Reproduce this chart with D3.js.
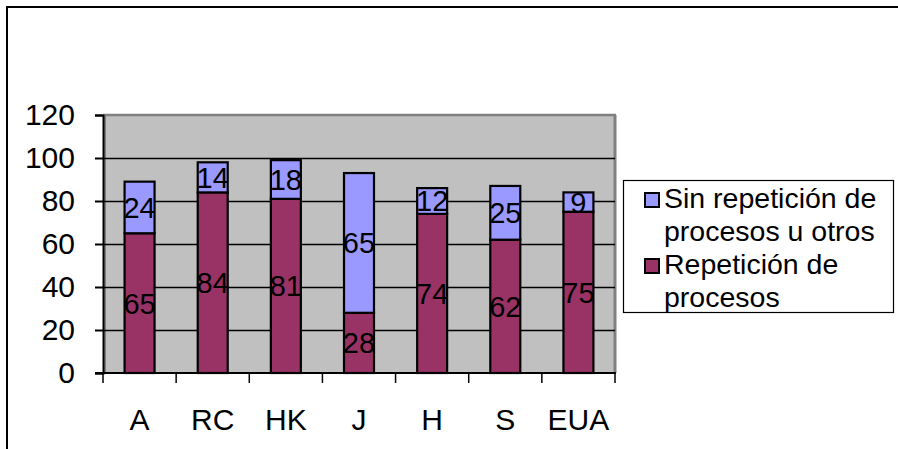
<!DOCTYPE html>
<html>
<head>
<meta charset="utf-8">
<script src="https://cdn.jsdelivr.net/npm/d3@7.9.0/dist/d3.min.js"></script>
<style>
  body { margin: 0; background: #fff; }
  svg { display: block; font-family: "Liberation Sans", Arial, sans-serif; }
</style>
</head>
<body>
<svg width="898" height="449"></svg>
<script>
// chart data
const categories = ['A', 'RC', 'HK', 'J', 'H', 'S', 'EUA'];
const repeticion = [65, 84, 81, 28, 74, 62, 75];
const sinRepeticion = [24, 14, 18, 65, 12, 25, 9];
const yTicks = [0, 20, 40, 60, 80, 100, 120];
const legendLines = [
  ['Sin repetición de', 'procesos u otros'],
  ['Repetición de', 'procesos']
];
const colors = ['#993366', '#9999FF'];

const svg = d3.select('svg');
const plotLeft = 103, plotRight = 615, plotTop = 115, plotBottom = 373;

// frame lines of the picture
svg.append('line').attr('x1', 7).attr('x2', 7).attr('y1', 6).attr('y2', 449)
  .attr('stroke', '#000').attr('stroke-width', 2);
svg.append('line').attr('x1', 6).attr('x2', 898).attr('y1', 7).attr('y2', 7)
  .attr('stroke', '#000').attr('stroke-width', 2);

let x = d3.scaleBand().domain(categories).range([plotLeft, plotRight])
  .paddingInner(0.59).paddingOuter(0.295);
let y = d3.scaleLinear().domain([0, 120]).range([plotBottom, plotTop]);

// plot area
svg.append('rect').attr('x', plotLeft).attr('y', plotTop)
  .attr('width', plotRight - plotLeft).attr('height', plotBottom - plotTop).attr('fill', '#C0C0C0');
svg.append('line').attr('x1', plotLeft).attr('x2', plotRight + 1).attr('y1', plotTop).attr('y2', plotTop)
  .attr('stroke', '#808080').attr('stroke-width', 2.5);
svg.append('line').attr('x1', plotRight).attr('x2', plotRight).attr('y1', plotTop).attr('y2', plotBottom)
  .attr('stroke', '#808080').attr('stroke-width', 3);
svg.append('line').attr('x1', plotLeft + 2).attr('x2', plotLeft + 2).attr('y1', plotTop).attr('y2', plotBottom)
  .attr('stroke', '#808080').attr('stroke-width', 2);

// gridlines
svg.append('g').selectAll('line')
  .data(yTicks.filter((d) => d > 0 && d < 120))
  .join('line')
  .attr('x1', plotLeft).attr('x2', plotRight)
  .attr('y1', (d) => Math.round(y(d)) + 0.5).attr('y2', (d) => Math.round(y(d)) + 0.5)
  .attr('stroke', '#000').attr('stroke-width', 1.3);

// stacked bars
let rows = categories.map((c, i) => ({ cat: c, rep: repeticion[i], sin: sinRepeticion[i] }));
let stacked = d3.stack().keys(['rep', 'sin'])(rows);

let groups = svg.append('g').selectAll('g')
  .data(stacked)
  .join('g')
  .attr('fill', (d, i) => colors[i]);

groups.selectAll('rect')
  .data((d) => d)
  .join('rect')
  .attr('x', (d) => x(d.data.cat))
  .attr('y', (d) => y(d[1]))
  .attr('width', x.bandwidth())
  .attr('height', (d) => y(d[0]) - y(d[1]))
  .attr('stroke', '#000')
  .attr('stroke-width', 2.2);

// value labels in the middle of each segment
groups.selectAll('text')
  .data((d) => d)
  .join('text')
  .attr('x', (d) => x(d.data.cat) + x.bandwidth() / 2)
  .attr('y', (d) => y((d[0] + d[1]) / 2))
  .attr('dy', '0.36em')
  .attr('text-anchor', 'middle')
  .attr('fill', '#000')
  .attr('font-size', 29)
  .text((d) => d[1] - d[0]);

// y axis
let yAxis = svg.append('g')
  .attr('transform', `translate(${plotLeft},0)`)
  .call(d3.axisLeft(y).tickValues(yTicks).tickSize(8).tickPadding(20));
yAxis.select('.domain').attr('stroke-width', 2);
yAxis.selectAll('.tick line').attr('stroke-width', 2);
yAxis.selectAll('text').attr('font-size', 30).attr('fill', '#000')
  .attr('font-family', '"Liberation Sans", Arial, sans-serif');

// x axis: ticks on category boundaries, labels centered
let xg = svg.append('g').attr('transform', `translate(0,${plotBottom})`);
xg.append('line').attr('x1', plotLeft - 8).attr('x2', plotRight + 1).attr('y1', 0).attr('y2', 0)
  .attr('stroke', '#000').attr('stroke-width', 2);
let gap = (x.step() - x.bandwidth()) / 2;
let bounds = categories.map((c) => x(c) - gap).concat([plotRight]);
xg.selectAll('.bt').data(bounds).join('line')
  .attr('x1', (d) => d).attr('x2', (d) => d)
  .attr('y1', 0).attr('y2', 10)
  .attr('stroke', '#000').attr('stroke-width', 1.5);
xg.selectAll('text').data(categories).join('text')
  .attr('x', (d) => x(d) + x.bandwidth() / 2)
  .attr('y', 57)
  .attr('text-anchor', 'middle')
  .attr('font-size', 30)
  .text((d) => d);

// legend
let legend = svg.append('g');
legend.append('rect').attr('x', 623.5).attr('y', 180.5).attr('width', 270).attr('height', 132)
  .attr('fill', '#fff').attr('stroke', '#000').attr('stroke-width', 1.2);
let legendColors = [colors[1], colors[0]];
legendLines.forEach((lines, i) => {
  let base = 208 + i * 66;
  legend.append('rect')
    .attr('x', 645).attr('y', base - 15).attr('width', 14).attr('height', 14)
    .attr('fill', legendColors[i]).attr('stroke', '#000').attr('stroke-width', 2);
  lines.forEach((t, j) => {
    legend.append('text')
      .attr('x', 664).attr('y', base + j * 33)
      .attr('font-size', 28.5)
      .text(t);
  });
});
</script>
</body>
</html>
